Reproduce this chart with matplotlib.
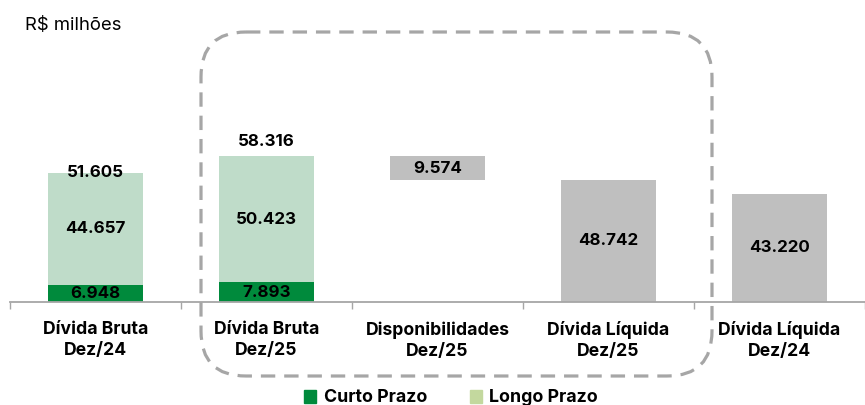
import matplotlib.pyplot as plt
from matplotlib.patches import FancyBboxPatch, Patch

plt.rcParams['font.family'] = ['Inter', 'DejaVu Sans']

# data (R$ milhões)
categories = ['Dívida Bruta\nDez/24', 'Dívida Bruta\nDez/25', 'Disponibilidades\nDez/25',
              'Dívida Líquida\nDez/25', 'Dívida Líquida\nDez/24']
curto = [6.948, 7.893]
longo = [44.657, 50.423]
bruta_total = [51.605, 58.316]
disponibilidades = 9.574
liquida = [48.742, 43.220]

def fmt(v):
    return f'{v:.3f}'

dark_green = '#008A3C'
light_green = '#BFDCC9'
gray = '#BFBFBF'

fig = plt.figure(figsize=(8.65, 4.05), dpi=100)
ax = fig.add_axes([10 / 865, 103 / 405, 855 / 865, 292 / 405])

w = 0.552
x = list(range(len(categories)))
fs = 12.2

# stacked gross debt bars
ax.bar(x[:2], curto, width=w, color=dark_green, zorder=2)
ax.bar(x[:2], longo, bottom=curto, width=w, color=light_green, zorder=2)
for i in range(2):
    ax.text(x[i], curto[i] / 2, fmt(curto[i]), ha='center', va='center',
            fontsize=fs, fontweight='bold')
    ax.text(x[i], curto[i] + longo[i] / 2, fmt(longo[i]), ha='center', va='center',
            fontsize=fs, fontweight='bold')
# total labels
ax.text(x[0], bruta_total[0], fmt(bruta_total[0]), ha='center', va='center',
        fontsize=fs, fontweight='bold', zorder=3)
ax.text(x[1], bruta_total[1] + 6, fmt(bruta_total[1]), ha='center', va='center',
        fontsize=fs, fontweight='bold', zorder=3)

# cash (floating bar)
ax.bar(x[2], disponibilidades, bottom=liquida[0], width=w, color=gray, zorder=2)
ax.text(x[2], liquida[0] + disponibilidades / 2, fmt(disponibilidades),
        ha='center', va='center', fontsize=fs, fontweight='bold')

# net debt
ax.bar(x[3:], liquida, width=w, color=gray, zorder=2)
for i, v in zip(x[3:], liquida):
    ax.text(i, v / 2, fmt(v), ha='center', va='center', fontsize=fs, fontweight='bold')

ax.set_xlim(-0.5, 855 / 174 - 0.5)
ax.set_ylim(0, 292 / 2.503)
ax.set_xticks(x)
ax.set_xticklabels(categories, fontsize=12.7, fontweight='bold', linespacing=1.3)
ax.set_xticks([i - 0.5 for i in range(len(categories) + 1)], minor=True)
ax.tick_params(axis='x', which='major', length=0, pad=14)
ax.tick_params(axis='x', which='minor', length=5, width=1, color='#A6A6A6')
ax.set_yticks([])
for s in ['top', 'right', 'left']:
    ax.spines[s].set_visible(False)
ax.spines['bottom'].set_color('#A6A6A6')
ax.spines['bottom'].set_linewidth(1.3)

fig.text(25 / 865, 1 - 25 / 405, 'R$ milhões', fontsize=13.3, ha='left', va='center')

# legend
handles = [Patch(color=dark_green, label='Curto Prazo'),
           Patch(color='#C3D89E', label='Longo Prazo')]
fig.legend(handles=handles, loc='center', bbox_to_anchor=(451 / 865, 1 - 398 / 405),
           ncol=2, frameon=False, prop={'weight': 'bold', 'size': 12.8},
           handlelength=0.7, handleheight=0.7, handletextpad=0.4, columnspacing=2.4)

# dashed highlight box in pixel coords
ov = fig.add_axes([0, 0, 1, 1], facecolor='none')
ov.set_xlim(0, 865)
ov.set_ylim(405, 0)
ov.axis('off')
box = FancyBboxPatch((201, 32), 511, 344, boxstyle='round,pad=0,rounding_size=45',
                     fill=False, edgecolor='#A6A6A6', linewidth=2.3,
                     linestyle=(0, (4.5, 2.8)))
ov.add_patch(box)

fig.savefig('out.png', dpi=100)
